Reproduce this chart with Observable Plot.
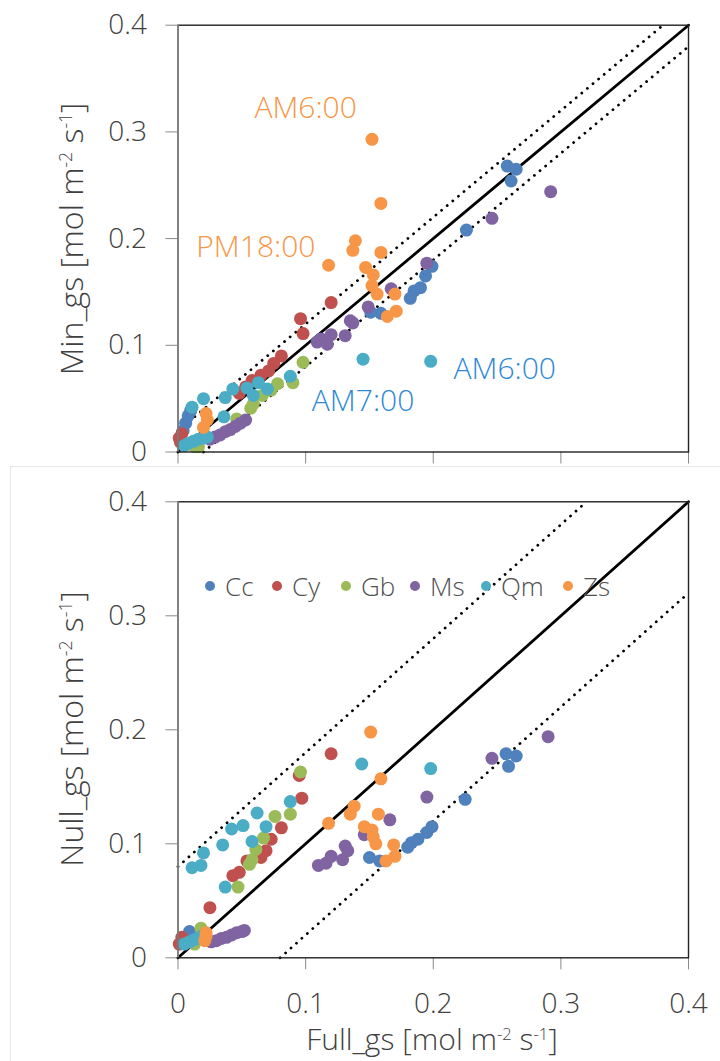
<!DOCTYPE html>
<html>
<head>
<meta charset="utf-8">
<script src="https://cdn.jsdelivr.net/npm/d3@7"></script>
<script src="https://cdn.jsdelivr.net/npm/@observablehq/plot@0.6"></script>
<style>
  html, body { margin: 0; padding: 0; background: #fff; }
  #page { position: relative; width: 720px; height: 1061px; overflow: hidden; font-family: "Open Sans", "Lato", sans-serif; font-weight: 300; color: #404040; }
  .panel { position: absolute; left: 0; }
  .ytitle { position: absolute; width: 440px; text-align: center; font-size: 32px; white-space: nowrap; transform: translate(-50%, -50%) rotate(-90deg); line-height: 1; }
  .xtitle { position: absolute; width: 440px; text-align: center; font-size: 30px; white-space: nowrap; transform: translate(-50%, -50%); line-height: 1; }
  sup { font-size: 55%; vertical-align: 0.6em; line-height: 0; }
  svg g[aria-label="y-axis tick"], svg g[aria-label="x-axis tick"] { stroke: #8a8a8a; }
  #legend { position: absolute; top: 586px; left: 0; font-size: 26px; color: #505050; }
  #legend .item { position: absolute; transform: translateY(-50%); white-space: nowrap; display: flex; align-items: center; }
  #legend .sw { display: inline-block; width: 10px; height: 10px; border-radius: 50%; margin-right: 10px; }
  #sep { position: absolute; left: 10px; top: 466px; width: 720px; height: 600px; border: 1px solid #e6e6e6; box-sizing: border-box; }
</style>
</head>
<body>
<div id="page">
  <div id="sep"></div>
  <div id="top" class="panel" style="top:0"></div>
  <div id="bottom" class="panel" style="top:466px"></div>
  <div class="ytitle" style="left:71px; top:239px">Min_gs [mol m<sup>-2</sup> s<sup>-1</sup>]</div>
  <div class="ytitle" style="left:71px; top:729px">Null_gs [mol m<sup>-2</sup> s<sup>-1</sup>]</div>
  <div class="xtitle" style="left:432px; top:1039px">Full_gs [mol m<sup>-2</sup> s<sup>-1</sup>]</div>
  <div id="legend"></div>
</div>
<script>
// ---------- data ----------
const species = ["Cc", "Cy", "Gb", "Ms", "Qm", "Zs"];
const speciesColors = ["#4F81BD", "#C0504D", "#9BBB59", "#8064A2", "#4BACC6", "#F79646"];
const tickValues = [0, 0.1, 0.2, 0.3, 0.4];
const tickLabels = ["0", "0.1", "0.2", "0.3", "0.4"];

// Full_gs vs Min_gs (top panel)
const minCc = [[0.258,0.268],[0.265,0.265],[0.261,0.254],[0.226,0.208],[0.199,0.174],[0.194,0.165],[0.190,0.154],[0.185,0.151],[0.182,0.144],[0.159,0.130],[0.151,0.131],[0.004,0.020],[0.006,0.027],[0.008,0.034],[0.010,0.039]];
const minCy = [[0.120,0.140],[0.096,0.125],[0.098,0.111],[0.081,0.090],[0.075,0.083],[0.071,0.076],[0.065,0.072],[0.058,0.067],[0.053,0.061],[0.048,0.055],[0.003,0.017],[0.002,0.009],[0.001,0.013]];
const minGb = [[0.098,0.084],[0.090,0.065],[0.078,0.064],[0.073,0.058],[0.066,0.053],[0.059,0.045],[0.057,0.041],[0.046,0.031],[0.016,0.005],[0.013,0.005]];
const minMs = [[0.292,0.244],[0.246,0.219],[0.195,0.177],[0.167,0.153],[0.149,0.136],[0.137,0.121],[0.135,0.123],[0.131,0.109],[0.120,0.110],[0.117,0.101],[0.109,0.103],[0.112,0.106],[0.025,0.012],[0.029,0.014],[0.033,0.016],[0.037,0.019],[0.041,0.021],[0.045,0.024],[0.049,0.027],[0.053,0.030]];
const minQm = [[0.145,0.087],[0.198,0.085],[0.088,0.071],[0.063,0.065],[0.070,0.059],[0.059,0.053],[0.054,0.060],[0.043,0.059],[0.037,0.051],[0.020,0.050],[0.011,0.042],[0.036,0.033],[0.005,0.006],[0.008,0.008],[0.012,0.010],[0.016,0.012],[0.020,0.013],[0.023,0.014]];
const minZs = [[0.152,0.293],[0.159,0.233],[0.139,0.198],[0.137,0.189],[0.159,0.187],[0.118,0.175],[0.147,0.173],[0.153,0.166],[0.152,0.156],[0.156,0.148],[0.170,0.148],[0.171,0.132],[0.164,0.127],[0.023,0.030],[0.022,0.036],[0.020,0.023]];

// Full_gs vs Null_gs (bottom panel)
const nullCc = [[0.257,0.179],[0.265,0.177],[0.259,0.168],[0.225,0.139],[0.199,0.115],[0.195,0.110],[0.188,0.104],[0.183,0.101],[0.180,0.097],[0.150,0.088],[0.158,0.085],[0.009,0.023],[0.006,0.018]];
const nullCy = [[0.120,0.179],[0.095,0.160],[0.097,0.140],[0.081,0.114],[0.073,0.104],[0.069,0.094],[0.065,0.088],[0.054,0.085],[0.048,0.075],[0.043,0.072],[0.025,0.044],[0.003,0.018],[0.001,0.012]];
const nullGb = [[0.096,0.163],[0.088,0.126],[0.076,0.124],[0.067,0.105],[0.061,0.095],[0.058,0.086],[0.056,0.082],[0.047,0.062],[0.018,0.026],[0.013,0.012]];
const nullMs = [[0.290,0.194],[0.246,0.175],[0.195,0.141],[0.166,0.121],[0.146,0.108],[0.133,0.094],[0.131,0.098],[0.129,0.086],[0.120,0.089],[0.116,0.083],[0.110,0.081],[0.026,0.014],[0.030,0.015],[0.034,0.017],[0.038,0.018],[0.042,0.020],[0.046,0.022],[0.050,0.023],[0.052,0.024]];
const nullQm = [[0.144,0.170],[0.198,0.166],[0.088,0.137],[0.062,0.127],[0.069,0.115],[0.051,0.116],[0.042,0.113],[0.058,0.102],[0.035,0.099],[0.020,0.092],[0.018,0.081],[0.011,0.079],[0.037,0.062],[0.005,0.012],[0.009,0.014],[0.013,0.016],[0.017,0.018],[0.020,0.020]];
const nullZs = [[0.151,0.198],[0.159,0.157],[0.138,0.133],[0.135,0.126],[0.157,0.126],[0.118,0.118],[0.146,0.115],[0.152,0.112],[0.153,0.106],[0.155,0.100],[0.169,0.099],[0.170,0.089],[0.163,0.085],[0.022,0.022],[0.021,0.015],[0.022,0.019]];

// Reference lines: 1:1 line and parallel offsets
const minOffset = 0.02;
const nullOffset = 0.08;

// Time-of-day annotations (top panel): label, species, x, y in data units
const minNotes = [
  {label: "AM6:00", species: "Zs", x: 0.100, y: 0.322},
  {label: "PM18:00", species: "Zs", x: 0.061, y: 0.192},
  {label: "AM7:00", species: "Qm", x: 0.145, y: 0.047},
  {label: "AM6:00", species: "Qm", x: 0.256, y: 0.077}
];

// ---------- build ----------
const noteColor = {Zs: "#F79646", Qm: "#2E88D4"};
function table(arrs) {
  const rows = [];
  species.forEach((s, i) => arrs[i].forEach(([x, y]) => rows.push({species: s, x, y})));
  return rows;
}
function lines(off) {
  const lo = tickValues[0], hi = tickValues[tickValues.length - 1];
  return {
    solid: [{x: lo, y: lo}, {x: hi, y: hi}],
    dotted: [
      {id: "u", x: lo, y: lo + off}, {id: "u", x: hi - off, y: hi},
      {id: "l", x: lo + off, y: lo}, {id: "l", x: hi, y: hi - off}
    ]
  };
}
const fmt = d => tickLabels[tickValues.indexOf(d)] ?? String(d);

function panel({data, off, height, marginTop, marginBottom, xLabels, notes}) {
  const L = lines(off);
  const marks = [
    Plot.line(L.dotted, {x: "x", y: "y", z: "id", stroke: "#000", strokeWidth: 2.8, strokeDasharray: "0.01 7.3", strokeLinecap: "round"}),
    Plot.line(L.solid, {x: "x", y: "y", stroke: "#000", strokeWidth: 2.8}),
    Plot.dot(data, {x: "x", y: "y", fill: "species", r: 6.5, stroke: "none"}),
    Plot.frame({stroke: "#222", strokeWidth: 1.4}),
    Plot.ruleX([0], {stroke: "#8a8a8a", strokeWidth: 1.6})
  ];
  if (notes) {
    marks.push(Plot.text(notes, {x: "x", y: "y", text: "label", fill: d => noteColor[d.species], fontSize: 30, fontWeight: 300}));
  }
  return Plot.plot({
    width: 720, height,
    marginLeft: 177.5, marginRight: 32, marginTop, marginBottom,
    style: {fontFamily: "'Open Sans', Lato, sans-serif", fontSize: "28px", fontWeight: 300, color: "#404040", background: "transparent", overflow: "visible"},
    x: {domain: [0, 0.4], ticks: tickValues, tickSize: 12, tickPadding: 23, tickFormat: xLabels ? fmt : () => "", label: null},
    y: {domain: [0, 0.4], ticks: tickValues, tickSize: 12, tickPadding: 19, tickFormat: fmt, label: null},
    color: {domain: species, range: speciesColors},
    marks
  });
}

document.getElementById("top").append(panel({
  data: table([minCc, minCy, minGb, minMs, minQm, minZs]),
  off: minOffset, height: 466, marginTop: 24.7, marginBottom: 14.5, xLabels: false, notes: minNotes
}));
document.getElementById("bottom").append(panel({
  data: table([nullCc, nullCy, nullGb, nullMs, nullQm, nullZs]),
  off: nullOffset, height: 595, marginTop: 35.3, marginBottom: 103.7, xLabels: true
}));

// legend (HTML, placed over the bottom panel)
const legendX = [205, 272, 341, 410, 481, 563];
const lg = document.getElementById("legend");
species.forEach((s, i) => {
  const it = document.createElement("div");
  it.className = "item";
  it.style.left = legendX[i] + "px";
  it.innerHTML = `<span class="sw" style="background:${speciesColors[i]}"></span><span>${s}</span>`;
  lg.append(it);
});
</script>
</body>
</html>
